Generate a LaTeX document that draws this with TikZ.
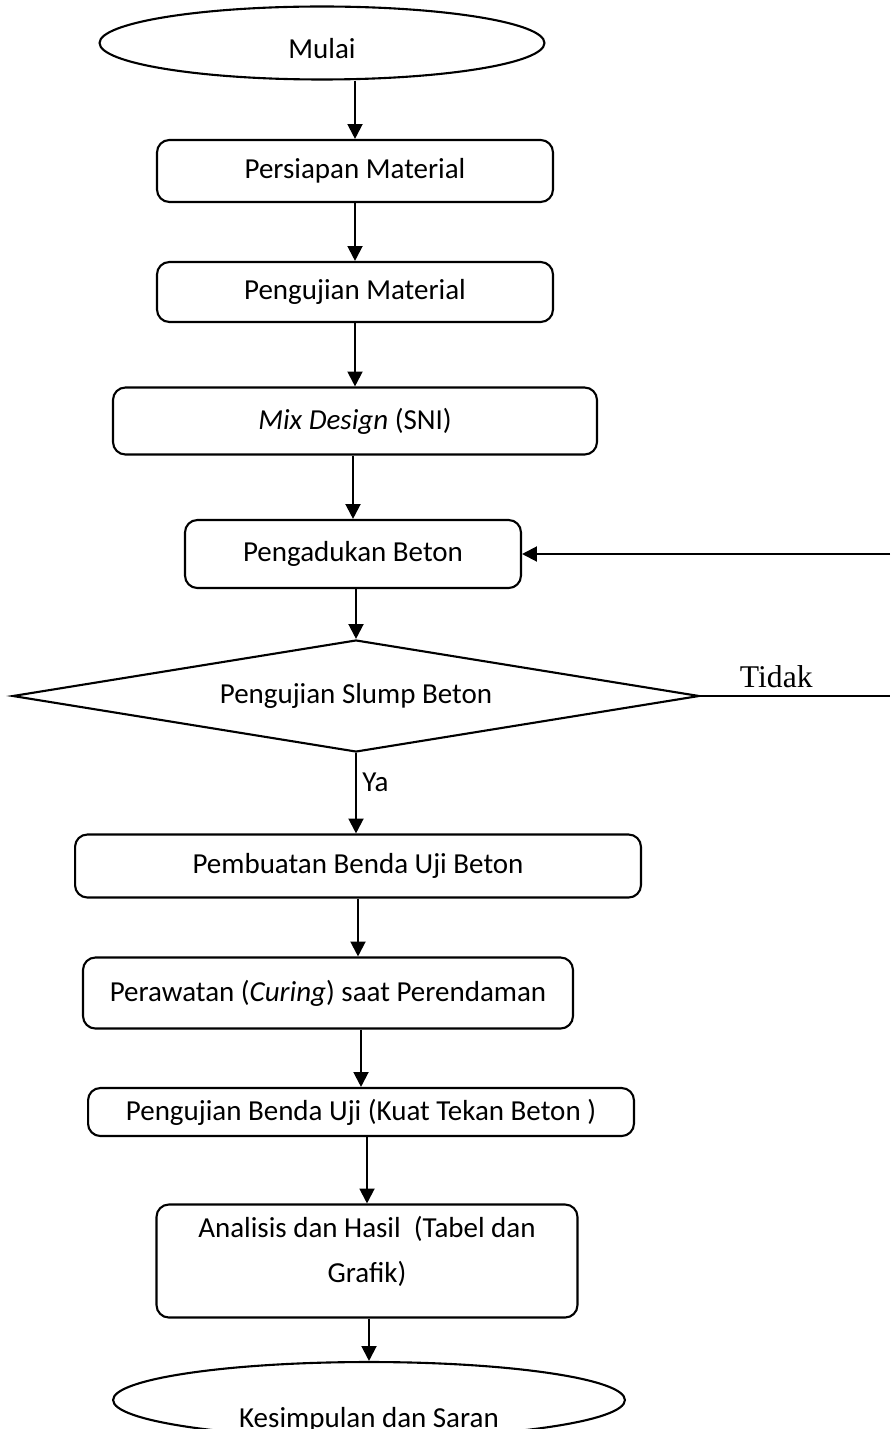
\documentclass[tikz,border=0pt]{standalone}
\usepackage{fontspec}
\setmainfont{Carlito}
\newfontfamily\timesfont{Liberation Serif}
\usetikzlibrary{shapes.geometric,arrows.meta}
\begin{document}
\begin{tikzpicture}[x=0.02cm, y=-0.02cm, line width=1.2pt, font=\fontsize{16.5}{26}\selectfont,
proses/.style={rectangle,rounded corners=7pt,draw,inner sep=0pt},
terminal/.style={ellipse,draw,inner sep=0pt},
arr/.style={-{Triangle[length=8.5pt,width=8.5pt]}}]
\useasboundingbox (0,0) rectangle (890,1429);
\begin{scope}
\node[terminal, minimum width=8.9cm, minimum height=1.46cm, label={[yshift=-3pt]center:Mulai}] (mulai) at (322,43) {};
\node[proses, minimum width=7.92cm, minimum height=1.24cm] (siap) at (355,171) {Persiapan Material};
\node[proses, minimum width=7.92cm, minimum height=1.2cm] (ujimat) at (355,292) {Pengujian Material};
\node[proses, minimum width=9.68cm, minimum height=1.34cm] (mix) at (355,421) {\textit{Mix Design} (SNI)};
\node[proses, minimum width=6.72cm, minimum height=1.36cm] (aduk) at (353,554) {Pengadukan Beton};
\node[diamond, draw, aspect=6.13, inner sep=0pt, minimum width=13.74cm, minimum height=2.24cm] (slump) at (356,696) {Pengujian Slump Beton};
\node[proses, minimum width=11.32cm, minimum height=1.26cm] (buat) at (358,866) {Pembuatan Benda Uji Beton};
\node[proses, minimum width=9.8cm, minimum height=1.42cm] (rawat) at (328,993) {Perawatan (\textit{Curing}) saat Perendaman};
\node[proses, minimum width=10.92cm, minimum height=0.96cm] (ujibenda) at (361,1112) {Pengujian Benda Uji (Kuat Tekan Beton )};
\node[proses, minimum width=8.42cm, minimum height=2.26cm, label={[yshift=5.5pt, align=center]center:Analisis dan Hasil~~(Tabel dan\\Grafik)}] (analisis) at (367,1261) {};
\node[terminal, minimum width=10.24cm, minimum height=1.52cm, label={[yshift=-11pt]center:Kesimpulan dan Saran}] (simpul) at (369,1400) {};
\coordinate (balik) at (890,554);
\coordinate (tidakR) at (890,696);
\end{scope}
\begin{scope}
\draw[arr] (siap.north |- mulai.south) -- (siap.north);
\draw[arr] (ujimat.north |- siap.south) -- (ujimat.north);
\draw[arr] (mix.north |- ujimat.south) -- (mix.north);
\draw[arr] (aduk.north |- mix.south) -- (aduk.north);
\draw[arr] (slump.north |- aduk.south) -- (slump.north);
\draw[arr] (slump.south) -- (slump.south |- buat.north) node[pos=0.37, anchor=west, inner sep=3pt] {Ya};
\draw[arr] (buat.south) -- (buat.south |- rawat.north);
\draw[arr] (ujibenda.north |- rawat.south) -- (ujibenda.north);
\draw[arr] (analisis.north |- ujibenda.south) -- (analisis.north);
\draw[arr] (simpul.north |- analisis.south) -- (simpul.north);
\draw (slump.east) -- (tidakR) node[pos=0.4, above=1pt, font=\timesfont\fontsize{18}{20}\selectfont] {Tidak};
\draw[arr] (balik) -- (aduk.east);
\end{scope}
\end{tikzpicture}
\end{document}
